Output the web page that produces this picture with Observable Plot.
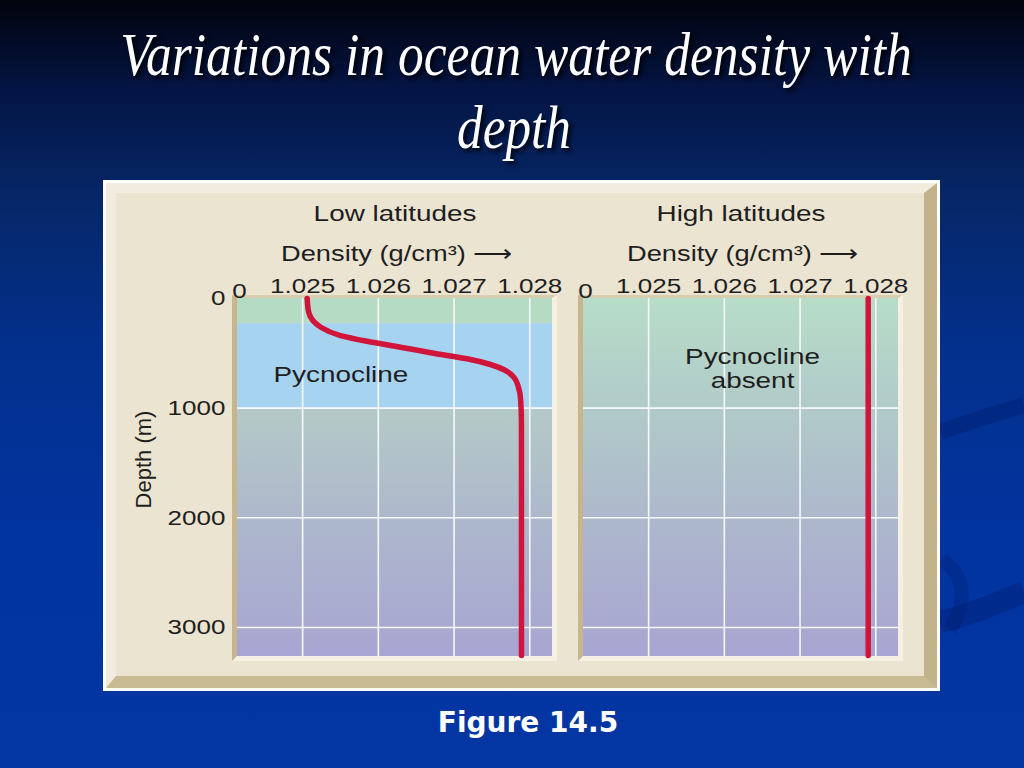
<!DOCTYPE html>
<html>
<head>
<meta charset="utf-8">
<script src="https://cdn.jsdelivr.net/npm/d3@7"></script>
<script src="https://cdn.jsdelivr.net/npm/@observablehq/plot@0.6"></script>
<style>
  html, body { margin: 0; padding: 0; width: 1024px; height: 768px; overflow: hidden; }
  body {
    position: relative;
    background: linear-gradient(to bottom, #01030d 0%, #041545 12%, #062768 26%, #03308c 45%, #0234a0 70%, #0336a3 100%);
    font-family: "Liberation Sans", Arial, sans-serif;
  }
  #deco { position: absolute; left: 0; top: 0; }
  #title { position: absolute; left: 0; top: 0; filter: drop-shadow(3px 3px 2px rgba(0,0,0,0.85)); }
  #frame { position: absolute; left: 103px; top: 180px; width: 837px; height: 511px; background: #ffffff; }
  #bevel {
    position: absolute; left: 106px; top: 183px; width: 831px; height: 505px; box-sizing: border-box;
    background: #ebe4d1; border-style: solid; border-width: 10px 13px 12px 10px;
    border-color: #f2ecdf #c2b38b #c8ba93 #f2ecdf;
  }
  .well {
    position: absolute; box-sizing: border-box; border-style: solid; border-width: 3px 5px 5px 5px;
    border-color: #d8cdae #f5f0e3 #f5f0e3 #c6b58d;
  }
  #wellL { left: 232px; top: 295px; width: 325px; height: 366px; }
  #wellR { left: 578px; top: 295px; width: 325px; height: 366px; }
  #left { position: absolute; left: 110px; top: 190px; }
  #right { position: absolute; left: 570px; top: 190px; }
  #caption {
    position: absolute; left: 378px; width: 300px; top: 709px; text-align: center;
    font-family: "DejaVu Sans", Verdana, sans-serif; font-weight: bold; font-size: 28px; line-height: 28px; color: #ffffff;
  }
</style>
</head>
<body>
<svg width="0" height="0" style="position:absolute">
  <defs>
    <linearGradient id="gDeepLow" x1="0" y1="0" x2="0" y2="1">
      <stop offset="0" stop-color="#b4cac7"/>
      <stop offset="0.45" stop-color="#adb8cc"/>
      <stop offset="1" stop-color="#a8a5d2"/>
    </linearGradient>
    <linearGradient id="gHigh" x1="0" y1="0" x2="0" y2="1">
      <stop offset="0" stop-color="#b7ddc8"/>
      <stop offset="0.3" stop-color="#b1cbc9"/>
      <stop offset="0.62" stop-color="#adb8cc"/>
      <stop offset="1" stop-color="#a8a5d2"/>
    </linearGradient>
  </defs>
</svg>
<svg id="deco" width="1024" height="768">
  <path d="M940,432 C975,420 1000,412 1024,405" stroke="rgba(0,25,100,0.35)" stroke-width="16" fill="none"/>
  <path d="M940,622 C980,612 1005,600 1024,592" stroke="rgba(0,25,100,0.35)" stroke-width="22" fill="none"/>
  <path d="M942,560 C965,575 968,600 950,630" stroke="rgba(0,25,100,0.28)" stroke-width="14" fill="none"/>
</svg>
<svg id="title" width="1024" height="180">
  <text id="t1" data-cx="516" data-w="792" y="75" text-anchor="middle"
        font-family="Liberation Serif, Times New Roman, serif" font-style="italic" font-size="62" fill="#ffffff">Variations in ocean water density with</text>
  <text id="t2" data-cx="514" data-w="114" y="148" text-anchor="middle"
        font-family="Liberation Serif, Times New Roman, serif" font-style="italic" font-size="62" fill="#ffffff">depth</text>
</svg>
<div id="frame"></div>
<div id="bevel"></div>
<div class="well" id="wellL"></div>
<div class="well" id="wellR"></div>
<div id="left"></div>
<div id="right"></div>
<div id="caption">Figure 14.5</div>
<script>
// ---------- data ----------
const panelTitles = ["Low latitudes", "High latitudes"];
const densityLabel = "Density (g/cm\u00b3) \u27f6";
const depthLabel = "Depth (m)";
const axisBreakLabel = "0";
const densityDomain = [1.02414, 1.0283];
const depthDomain = [0, 3265];
const densityTicks = [1.025, 1.026, 1.027, 1.028];
const depthTicks = [0, 1000, 2000, 3000];
const depthGrid = [1000, 2000, 3000];

// low latitudes density profile (g/cm3) vs depth (m)
const lowLatDensity = [1.02506, 1.02508, 1.02524, 1.02550, 1.02585, 1.02629, 1.02673, 1.02717, 1.02748, 1.02768, 1.02779, 1.02785, 1.02788, 1.02789, 1.02789];
const lowLatDepth   = [0, 125, 262, 338, 390, 444, 499, 550, 602, 657, 718, 809, 931, 1143, 3255];
// high latitudes: uniform density
const highLatDensity = [1.0279, 1.0279];
const highLatDepth   = [0, 3255];

// water layers (m)
const lowLayerNames  = ["Surface", "Pycnocline", "Deep"];
const lowLayerTop    = [0, 230, 1000];
const lowLayerBottom = [230, 1000, 3265];
const highLayerTop    = [0];
const highLayerBottom = [3265];

// annotations
const lowNote = "Pycnocline";
const lowNoteDensity = 1.024615, lowNoteDepth = 693;
const highNote = "Pycnocline\nabsent";
const highNoteDensity = 1.026372, highNoteDepth = 638;

// ---------- title fit (condensed italic) ----------
document.querySelectorAll("#title text").forEach(t => {
  const cx = +t.dataset.cx, w = +t.dataset.w;
  const len = t.getComputedTextLength();
  const k = len > 0 ? w / len : 0.82;
  t.setAttribute("x", 0);
  t.setAttribute("transform", `translate(${cx},0) scale(${k},1)`);
});

// ---------- build ----------
const lowLat = lowLatDepth.map((z, i) => ({density: lowLatDensity[i], depth: z}));
const highLat = highLatDepth.map((z, i) => ({density: highLatDensity[i], depth: z}));
const lowLayers = lowLayerNames.map((n, i) => ({name: n, top: lowLayerTop[i], bottom: lowLayerBottom[i]}));
const highLayers = highLayerTop.map((t, i) => ({name: "All", top: t, bottom: highLayerBottom[i]}));

const layerFill = {Surface: "#b5dbc5", Pycnocline: "#a6d3f0", Deep: "url(#gDeepLow)", All: "url(#gHigh)"};
const red = "#d1143a";
const ink = "#1e1e1e";
const FS = 21;

function panel({title, profile, layers, note, noteX, noteY, noteAnchor, width, marginLeft, marginRight, yAxis}) {
  const marks = [
    ...layers.map(l => Plot.rect([l], {x1: densityDomain[0], x2: densityDomain[1], y1: "top", y2: "bottom", fill: layerFill[l.name]})),
    Plot.ruleX(densityTicks, {stroke: "#f6f9fb", strokeWidth: 1.6}),
    Plot.ruleY(depthGrid, {stroke: "#f6f9fb", strokeWidth: 1.6}),
    Plot.line(profile, {x: "density", y: "depth", curve: "monotone-y", stroke: red, strokeWidth: 5.5}),
    Plot.axisX(densityTicks, {anchor: "top", tickSize: 0, tickPadding: 6, tickFormat: d3.format(".3f"), fontSize: FS, fill: ink, label: null}),
    Plot.text([axisBreakLabel], {x: densityDomain[0], frameAnchor: "top", lineAnchor: "middle", dx: 2, dy: -7, text: d => d, fontSize: FS, fill: ink}),
    Plot.text([title], {frameAnchor: "top", lineAnchor: "middle", dy: -85, text: d => d, fontSize: 22.5, fill: ink}),
    Plot.text([densityLabel], {frameAnchor: "top", lineAnchor: "middle", dy: -45, dx: 2, text: d => d, fontSize: 22, fill: ink}),
    Plot.text([note], {x: noteX, y: noteY, text: d => d, textAnchor: noteAnchor, lineAnchor: "middle", lineHeight: 1.05, fontSize: 22.5, fill: ink})
  ];
  if (yAxis) {
    marks.push(Plot.axisY(depthTicks, {anchor: "left", tickSize: 0, tickPadding: 12, tickFormat: d3.format("d"), fontSize: FS, fill: ink, label: null}));
    marks.push(Plot.text([depthLabel], {frameAnchor: "left", textAnchor: "middle", lineAnchor: "middle", dx: -94, dy: -18, rotate: -90, text: d => d, fontSize: 22, fill: ink}));
  }
  return Plot.plot({
    width, height: 480,
    marginLeft, marginRight, marginTop: 108, marginBottom: 14,
    style: {background: "transparent", fontFamily: "Liberation Sans, Arial, sans-serif", fontSize: FS + "px", color: ink},
    x: {domain: densityDomain},
    y: {domain: depthDomain, reverse: true, axis: yAxis ? undefined : null},
    marks
  });
}

function stretch(svg) {
  svg.querySelectorAll("text").forEach(t => {
    const tr = t.getAttribute("transform") || "";
    if (!tr.includes("rotate")) t.setAttribute("transform", (tr + " scale(1.24,1)").trim());
  });
  return svg;
}

const left = panel({title: panelTitles[0], profile: lowLat, layers: lowLayers, note: lowNote, noteX: lowNoteDensity, noteY: lowNoteDepth, noteAnchor: "start", width: 455, marginLeft: 127, marginRight: 13, yAxis: true});
const right = panel({title: panelTitles[1], profile: highLat, layers: highLayers, note: highNote, noteX: highNoteDensity, noteY: highNoteDepth, noteAnchor: "middle", width: 345, marginLeft: 13, marginRight: 17, yAxis: false});
document.getElementById("left").appendChild(stretch(left));
document.getElementById("right").appendChild(stretch(right));
</script>
</body>
</html>
